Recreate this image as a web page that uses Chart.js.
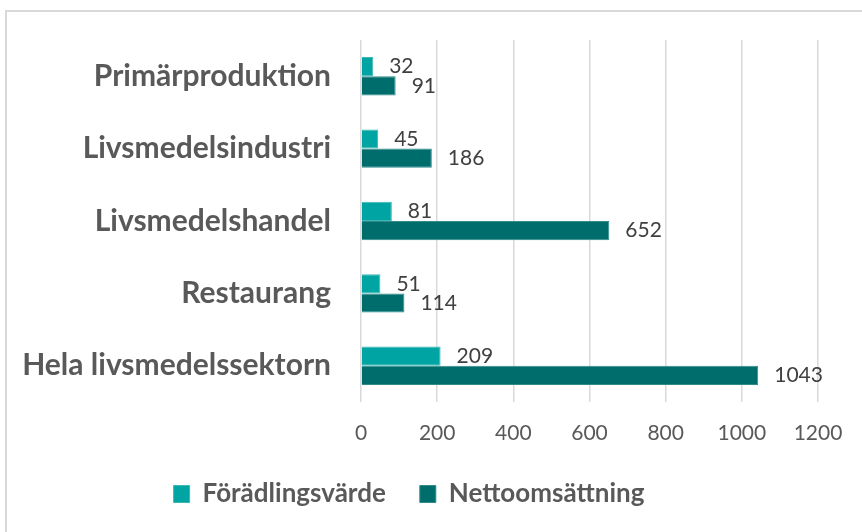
<!DOCTYPE html>
<html>
<head>
<meta charset="utf-8">
<script src="https://cdn.jsdelivr.net/npm/chart.js@4"></script>
<style>
    html, body { margin: 0; padding: 0; background: #fff; overflow: hidden; }
    #wrap { position: relative; width: 862px; height: 532px; }
    #frame { position: absolute; left: 5px; top: 10px; width: 900px; height: 600px;
             border: 2px solid #d9d9d9; box-sizing: border-box; }
    canvas { position: absolute; left: 0; top: 0; }
</style>
</head>
<body>
<div id="wrap">
    <div id="frame"></div>
    <canvas id="chart" width="862" height="532"></canvas>
</div>
<script>
// Chart data
const categories = ['Primärproduktion', 'Livsmedelsindustri', 'Livsmedelshandel', 'Restaurang', 'Hela livsmedelssektorn'];
const foradlingsvarde = [32, 45, 81, 51, 209];
const nettoomsattning = [91, 186, 652, 114, 1043];
const xTicks = [0, 200, 400, 600, 800, 1000, 1200];

const FONT = 'Lato, "Open Sans", sans-serif';

// Draw value labels to the right of each bar
const valueLabels = {
    id: 'valueLabels',
    afterDatasetsDraw(chart) {
        const ctx = chart.ctx;
        ctx.save();
        ctx.font = '21px ' + FONT;
        ctx.fillStyle = '#404040';
        ctx.textAlign = 'left';
        ctx.textBaseline = 'middle';
        chart.data.datasets.forEach((ds, i) => {
            chart.getDatasetMeta(i).data.forEach((bar, j) => {
                ctx.fillText(ds.data[j], bar.x + 16, bar.y);
            });
        });
        ctx.restore();
    }
};

new Chart(document.getElementById('chart').getContext('2d'), {
    type: 'bar',
    data: {
        labels: categories,
        datasets: [{
            label: 'Förädlingsvärde',
            data: foradlingsvarde,
            backgroundColor: '#00a5a3',
            borderColor: '#3bb8b5',
            borderWidth: 1
        }, {
            label: 'Nettoomsättning',
            data: nettoomsattning,
            backgroundColor: '#006d6d',
            borderColor: '#2f8c8c',
            borderWidth: 1
        }]
    },
    options: {
        indexAxis: 'y',
        responsive: false,
        animation: false,
        layout: { padding: { left: 0, right: 44, top: 37, bottom: 15 } },
        scales: {
            x: {
                min: 0,
                max: 1200,
                afterBuildTicks: s => { s.ticks = xTicks.map(v => ({ value: v })); },
                afterFit: s => { s.height = 45; },
                grid: { color: '#d9d9d9', lineWidth: 1.5, drawTicks: false },
                border: { display: false },
                ticks: { color: '#595959', font: { family: FONT, size: 21 }, padding: 19, callback: v => String(v) }
            },
            y: {
                afterFit: s => { s.width = 361; },
                grid: { display: false },
                border: { display: false },
                ticks: { color: '#595959', font: { family: FONT, size: 30, weight: 'bold' }, padding: 22 }
            }
        },
        datasets: { bar: { categoryPercentage: 0.53, barPercentage: 1 } },
        plugins: {
            legend: {
                position: 'bottom',
                labels: {
                    color: '#595959',
                    font: { family: FONT, size: 26, weight: 'bold' },
                    boxWidth: 16,
                    boxHeight: 17,
                    padding: 34
                }
            },
            tooltip: { enabled: false }
        }
    },
    plugins: [valueLabels]
});
</script>
</body>
</html>
